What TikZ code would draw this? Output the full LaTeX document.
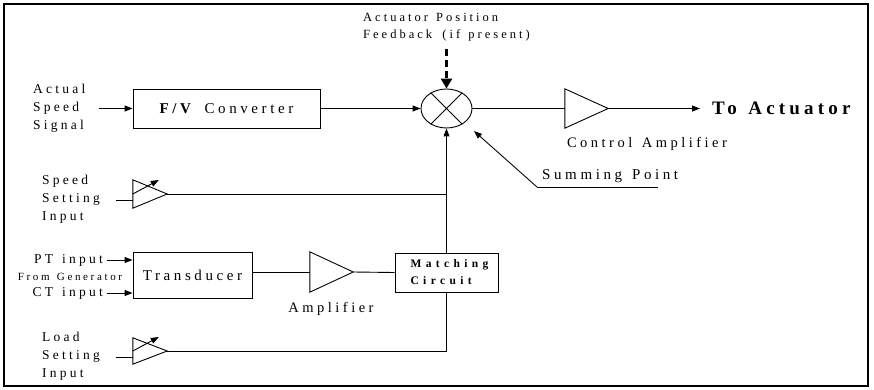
\documentclass[tikz,border=0pt]{standalone}
\usepackage{fontspec}
\setmainfont{Liberation Serif}[LetterSpace=24,WordSpace=1.35]
\newfontfamily\widefont{Liberation Serif}[LetterSpace=38]
\newfontfamily\tightfont{Liberation Serif}[LetterSpace=22,WordSpace=1.3]
\usetikzlibrary{arrows.meta,shapes.geometric}
\tikzset{
  ln/.style={line width=0.9pt},
  arr/.style={ln,-{Triangle[length=8pt,width=6pt]}},
  blk/.style={draw,ln,inner sep=0pt,font=\fontsize{15}{18}\selectfont},
  tribox/.style={inner sep=0pt},
  lbl/.style={inner sep=0pt,align=left,font=\fontsize{13.5}{18}\selectfont},
  biglbl/.style={inner sep=0pt,align=left,font=\fontsize{14.5}{18}\selectfont},
}
\newcommand{\amptri}[1]{\draw[ln] (#1.north west) -- (#1.east) -- (#1.south west) -- cycle;}
\begin{document}
\begin{tikzpicture}[x=1pt,y=-1pt]
\useasboundingbox (0,0) rectangle (874,390);
\draw[line width=1.6pt] (4,4) rectangle (868,386);

% top: F/V converter and summing point
\node[lbl,anchor=west] (asl) at (33,108.5) {Actual\\Speed\\Signal};
\coordinate (asin) at (99,108.5);
\node[blk,minimum width=187,minimum height=39] (fv) at (226.5,108.5) {\textbf{F/V} Converter};
\node[draw,ln,ellipse,minimum width=51,minimum height=39,inner sep=0pt] (sum) at (446.5,108.5) {};
\draw[ln] (sum.45) -- (sum.225) (sum.135) -- (sum.-45);
\draw[arr] (asin) -- (fv.west);
\draw[arr] (fv.east) -- (sum.west);

\node[inner sep=0pt,align=left,font=\fontsize{12.5}{17.5}\selectfont,anchor=west] (afb) at (363,27) {Actuator Position\\Feedback\ \kern2pt(if present)};
\coordinate (fbtop) at (446.5,49);
\draw[line width=3pt,dash pattern=on 7pt off 4pt,-{Triangle[length=10pt,width=11pt]}] (fbtop) -- (sum.north);

\node[tribox,minimum width=43,minimum height=39] (ca) at (586.5,108.5) {};
\amptri{ca}
\draw[ln] (sum.east) -- (ca.west);
\node[anchor=west,inner xsep=12pt,inner ysep=0pt,font=\fontsize{19}{22}\tightfont\bfseries] (toact) at (700,108.5) {To Actuator};
\draw[arr] (ca.east) -- (toact.west);
\node[biglbl] (cal) at (647,144) {Control Amplifier};

\coordinate (spa) at (537,187);
\coordinate (spb) at (658,187);
\coordinate (spt) at (474,131);
\node[biglbl,font=\fontsize{15}{18}\selectfont,anchor=south west] (spl) at (542,183) {Summing Point};
\draw[ln] (spb) -- (spa);
\draw[arr] (spa) -- (spt);

% speed setting
\node[lbl,anchor=west] (ssl) at (42,199.5) {Speed\\Setting\\Input};
\node[tribox,minimum width=34,minimum height=28] (ss) at (150,194) {};
\amptri{ss}
\coordinate (ssin) at (116,200);
\draw[ln] (ssin) -- (ssin -| ss.west);
\draw[arr] (ss.west) -- ++(26,-14);

% transducer chain
\node[blk,minimum width=119,minimum height=46] (tr) at (192.5,275) {Transducer};
\node[lbl,anchor=east] (pt) at (103,260) {PT input};
\node[lbl,font=\fontsize{11}{13}\selectfont] (fg) at (70,277) {From Generator};
\node[lbl,anchor=east] (ct) at (103,293) {CT input};
\draw[arr] (pt.east) ++(4,0) coordinate (ptin) -- (ptin -| tr.west);
\draw[arr] (ct.east) ++(4,0) coordinate (ctin) -- (ctin -| tr.west);
\node[tribox,minimum width=43,minimum height=40] (amp) at (331.5,272) {};
\amptri{amp}
\node[blk,minimum width=103,minimum height=39,align=left,font=\fontsize{11.5}{17}\widefont\bfseries] (mc) at (446.5,272.5) {\hspace*{6pt}Matching\\\hspace*{6pt}Circuit};
\draw[ln] (tr.east |- amp.west) -- (amp.west);
\draw[ln] (amp.east) -- (mc.west);
\node[biglbl] (ampl) at (331,309) {Amplifier};
\draw[arr] (mc.north) -- (sum.south);
\draw[ln] (ss.east) -- (ss.east -| mc.north);

% load setting
\node[lbl,anchor=west] (lsl) at (42,356) {Load\\Setting\\Input};
\node[tribox,minimum width=34,minimum height=26] (ls) at (150,351) {};
\amptri{ls}
\coordinate (lsin) at (116,357);
\draw[ln] (lsin) -- (lsin -| ls.west);
\draw[arr] (ls.west) -- ++(26,-14);
\draw[ln] (ls.east) -| (mc.south);
\end{tikzpicture}
\end{document}
